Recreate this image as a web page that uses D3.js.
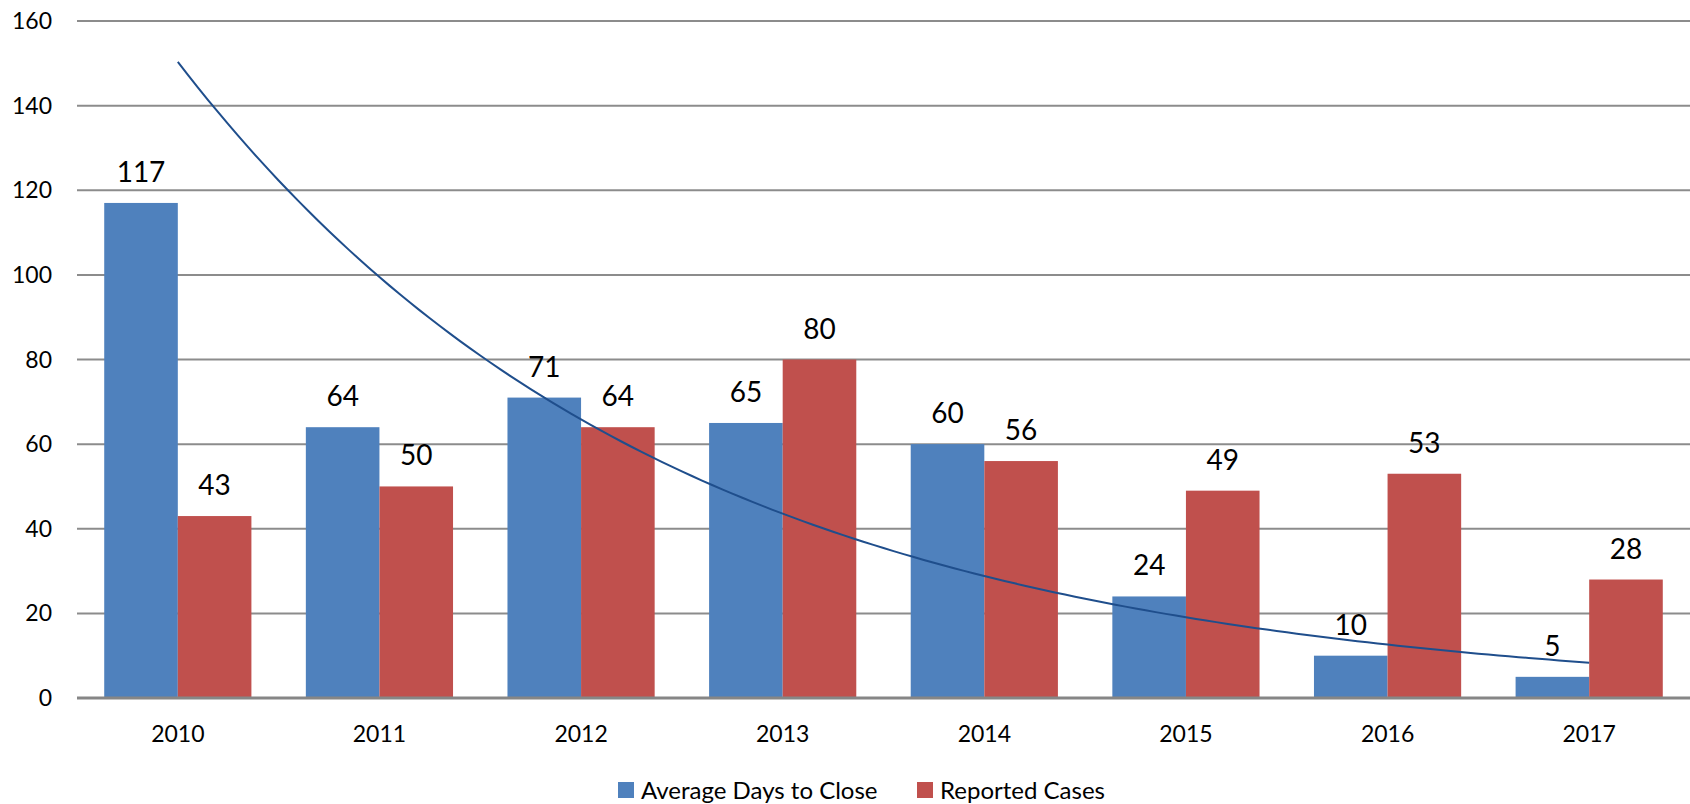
<!DOCTYPE html>
<html>
<head>
<meta charset="utf-8">
<script src="https://cdn.jsdelivr.net/npm/d3@7/dist/d3.min.js"></script>
<style>
  body { margin: 0; background: #fff; }
  svg { display: block; font-family: Lato, "Noto Sans", sans-serif; }
</style>
</head>
<body>
<script>
// chart data
var years = ["2010", "2011", "2012", "2013", "2014", "2015", "2016", "2017"];
var avgDays = [117, 64, 71, 65, 60, 24, 10, 5];
var reported = [43, 50, 64, 80, 56, 49, 53, 28];
var seriesNames = ["Average Days to Close", "Reported Cases"];
var seriesColors = ["#4f81bd", "#c0504d"];
var yTicks = [0, 20, 40, 60, 80, 100, 120, 140, 160];

var width = 1690, height = 804;
var plotLeft = 77, plotRight = 1690, plotTop = 21, plotBottom = 698;

var svg = d3.select("body").append("svg")
  .attr("width", width)
  .attr("height", height);

var x = d3.scaleBand().domain(years).range([plotLeft, plotRight]).padding(0);
var y = d3.scaleLinear().domain([0, 160]).range([plotBottom, plotTop]);
var barW = x.bandwidth() * 0.365;

//gridlines
svg.append("g").selectAll("line")
  .data(yTicks.filter(function(d) { return d > 0; }))
  .enter().append("line")
  .attr("x1", plotLeft).attr("x2", plotRight)
  .attr("y1", function(d) { return y(d); })
  .attr("y2", function(d) { return y(d); })
  .attr("stroke", "#8c8c8c")
  .attr("stroke-width", 2);

//y tick labels
svg.append("g").selectAll("text")
  .data(yTicks)
  .enter().append("text")
  .attr("x", 52)
  .attr("y", function(d) { return y(d) + 8; })
  .attr("text-anchor", "end")
  .attr("font-size", 23)
  .text(function(d) { return d; });

var series = [avgDays, reported];

series.forEach(function(vals, s) {
  var g = svg.append("g");
  g.selectAll("rect")
    .data(vals)
    .enter().append("rect")
    .attr("x", function(d, i) { return x(years[i]) + x.bandwidth() / 2 - barW + s * barW; })
    .attr("y", function(d) { return y(d); })
    .attr("width", barW)
    .attr("height", function(d) { return plotBottom - y(d); })
    .attr("fill", seriesColors[s]);
});

//baseline
svg.append("line")
  .attr("x1", plotLeft).attr("x2", plotRight)
  .attr("y1", plotBottom).attr("y2", plotBottom)
  .attr("stroke", "#868686")
  .attr("stroke-width", 3);

//exponential trendline on avg days (least squares on ln y)
var n = avgDays.length;
var xs = d3.range(1, n + 1);
var lnY = avgDays.map(function(v) { return Math.log(v); });
var mx = d3.mean(xs), my = d3.mean(lnY);
var b = d3.sum(xs, function(v, i) { return (v - mx) * (lnY[i] - my); }) /
        d3.sum(xs, function(v) { return (v - mx) * (v - mx); });
var a = my - b * mx;
var trendPts = d3.range(1, n + 0.001, 0.05).map(function(t) {
  return [x(years[0]) + x.bandwidth() / 2 + (t - 1) * x.step(), y(Math.exp(a + b * t))];
});
svg.append("path")
  .attr("d", d3.line()(trendPts))
  .attr("fill", "none")
  .attr("stroke", "#1f4e8c")
  .attr("stroke-width", 2);

//value labels
series.forEach(function(vals, s) {
  svg.append("g").selectAll("text")
    .data(vals)
    .enter().append("text")
    .attr("x", function(d, i) { return x(years[i]) + x.bandwidth() / 2 - barW / 2 + s * barW; })
    .attr("y", function(d) { return y(d) - 21; })
    .attr("text-anchor", "middle")
    .attr("font-size", 28)
    .text(function(d) { return d; });
});

//x labels
svg.append("g").selectAll("text")
  .data(years)
  .enter().append("text")
  .attr("x", function(d) { return x(d) + x.bandwidth() / 2; })
  .attr("y", 742)
  .attr("text-anchor", "middle")
  .attr("font-size", 23)
  .text(function(d) { return d; });

//legend
var legendX = [618, 917];
seriesNames.forEach(function(name, s) {
  svg.append("rect")
    .attr("x", legendX[s]).attr("y", 782)
    .attr("width", 16).attr("height", 16)
    .attr("fill", seriesColors[s]);
  svg.append("text")
    .attr("x", legendX[s] + 23).attr("y", 799)
    .attr("font-size", 24)
    .text(name);
});
</script>
</body>
</html>
